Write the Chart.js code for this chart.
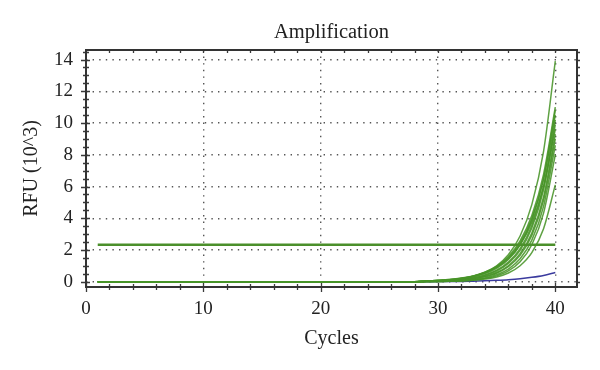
<!DOCTYPE html>
<html><head><meta charset="utf-8">
<script src="https://cdn.jsdelivr.net/npm/chart.js@4.4.0/dist/chart.umd.min.js"></script>
<style>html,body{margin:0;padding:0;background:#fff}#wrap{width:600px;height:370px}</style>
</head><body><div id="wrap"><canvas id="c" width="600" height="370"></canvas></div>
<script>
const cycles = [1,2,3,4,5,6,7,8,9,10,11,12,13,14,15,16,17,18,19,20,21,22,23,24,25,26,27,28,29,30,31,32,33,34,35,36,37,38,39,40];
const xTickValues = [0,10,20,30,40];
const yTickValues = [0,2,4,6,8,10,12,14];
const thresholdRFU = 2.33;

const well01 = [0,0,0,0,0,0,0,0,0,0,0,0,0,0,0,0,0,0,0,0,0,0,0,0,0,0,0,0,0.04,0.07,0.12,0.21,0.35,0.60,1.01,1.70,2.88,4.86,8.22,13.9];
const well02 = [0,0,0,0,0,0,0,0,0,0,0,0,0,0,0,0,0,0,0,0,0,0,0,0,0,0,0,0,0.05,0.09,0.14,0.23,0.37,0.60,0.97,1.58,2.57,4.17,6.77,11.0];
const well03 = [0,0,0,0,0,0,0,0,0,0,0,0,0,0,0,0,0,0,0,0,0,0,0,0,0,0,0,0,0.04,0.07,0.11,0.18,0.30,0.50,0.84,1.40,2.33,3.89,6.48,10.8];
const well04 = [0,0,0,0,0,0,0,0,0,0,0,0,0,0,0,0,0,0,0,0,0,0,0,0,0,0,0,0,0.05,0.08,0.13,0.21,0.35,0.57,0.93,1.51,2.45,3.98,6.46,10.5];
const well05 = [0,0,0,0,0,0,0,0,0,0,0,0,0,0,0,0,0,0,0,0,0,0,0,0,0,0,0,0,0.03,0.05,0.09,0.15,0.25,0.43,0.73,1.24,2.09,3.55,6.02,10.2];
const well06 = [0,0,0,0,0,0,0,0,0,0,0,0,0,0,0,0,0,0,0,0,0,0,0,0,0,0,0,0,0.03,0.05,0.08,0.13,0.23,0.40,0.68,1.16,1.98,3.39,5.79,9.9];
const well07 = [0,0,0,0,0,0,0,0,0,0,0,0,0,0,0,0,0,0,0,0,0,0,0,0,0,0,0,0,0.05,0.09,0.14,0.22,0.35,0.57,0.91,1.45,2.33,3.74,5.99,9.6];
const well08 = [0,0,0,0,0,0,0,0,0,0,0,0,0,0,0,0,0,0,0,0,0,0,0,0,0,0,0,0,0.02,0.04,0.06,0.11,0.19,0.34,0.58,1.01,1.77,3.07,5.34,9.3];
const well09 = [0,0,0,0,0,0,0,0,0,0,0,0,0,0,0,0,0,0,0,0,0,0,0,0,0,0,0,0,0.02,0.03,0.06,0.10,0.17,0.31,0.54,0.95,1.66,2.92,5.13,9.0];
const well10 = [0,0,0,0,0,0,0,0,0,0,0,0,0,0,0,0,0,0,0,0,0,0,0,0,0,0,0,0,0.01,0.02,0.04,0.07,0.13,0.24,0.44,0.80,1.45,2.62,4.75,8.6];
const well11 = [0,0,0,0,0,0,0,0,0,0,0,0,0,0,0,0,0,0,0,0,0,0,0,0,0,0,0,0,0.01,0.02,0.03,0.06,0.11,0.20,0.37,0.68,1.26,2.33,4.32,8.0];
const well12 = [0,0,0,0,0,0,0,0,0,0,0,0,0,0,0,0,0,0,0,0,0,0,0,0,0,0,0,0,0.01,0.02,0.03,0.05,0.09,0.17,0.30,0.55,1.01,1.83,3.34,6.1];
const ntcWell = [0,0,0,0,0,0,0,0,0,0,0,0,0,0,0,0,0,0,0,0,0,0,0,0,0,0,0,0,0,0.01,0.01,0.02,0.04,0.06,0.09,0.13,0.19,0.28,0.40,0.58];

const greenWells = [well01,well02,well03,well04,well05,well06,well07,well08,well09,well10,well11,well12];
const toPoints = arr => arr.map((v, i) => ({x: cycles[i], y: v}));

const FONT = 'Liberation Serif';
const TXT = '#222';
const datasets = greenWells.map(w => ({
  data: toPoints(w), borderColor: 'rgba(72,148,40,0.88)', borderWidth: 1.5,
  pointRadius: 0, cubicInterpolationMode: 'monotone', fill: false, order: 1
}));
datasets.push({
  data: toPoints(ntcWell), borderColor: '#3a3a9e', borderWidth: 1.5,
  pointRadius: 0, cubicInterpolationMode: 'monotone', fill: false, order: 3
});
datasets.push({
  data: [{x: cycles[0], y: thresholdRFU}, {x: cycles[cycles.length-1], y: thresholdRFU}],
  borderColor: '#4b8f2b', borderWidth: 2.6, pointRadius: 0, fill: false, order: 0
});

const frameTicks = {
  id: 'frameTicks',
  afterDraw(chart) {
    const {ctx, chartArea: a, scales: {x, y}} = chart;
    ctx.save();
    ctx.strokeStyle = '#3a3a3a';
    ctx.lineWidth = 1.3;
    for (let v = 0; v <= 40; v += 2) {
      const px = Math.round(x.getPixelForValue(v)) + 0.5;
      const major = v % 10 === 0;
      ctx.beginPath();
      ctx.moveTo(px, a.bottom - (major ? 4 : 3));
      ctx.lineTo(px, a.bottom + (major ? 5 : 3));
      ctx.moveTo(px, a.top);
      ctx.lineTo(px, a.top + 3);
      ctx.stroke();
    }
    for (let v = 0; v <= 14.5; v += 0.5) {
      const py = Math.round(y.getPixelForValue(v)) + 0.5;
      const major = v % 2 === 0;
      ctx.beginPath();
      ctx.moveTo(a.left - (major ? 5 : 3), py);
      ctx.lineTo(a.left + (major ? 4 : 3), py);
      ctx.moveTo(a.right, py);
      ctx.lineTo(a.right + 3, py);
      ctx.stroke();
    }
    ctx.lineWidth = 2;
    ctx.strokeStyle = '#333';
    ctx.strokeRect(a.left, a.top, a.right - a.left, a.bottom - a.top);
    ctx.restore();
  }
};

new Chart(document.getElementById('c'), {
  type: 'line',
  data: {datasets},
  plugins: [frameTicks],
  options: {
    responsive: false, animation: false, devicePixelRatio: 1,
    layout: {padding: {left: 0, right: 23, top: 0, bottom: 0}},
    plugins: {legend: {display: false}, tooltip: {enabled: false}, title: {display: false}},
    scales: {
      x: {
        type: 'linear', min: 0, max: 41.85,
        afterBuildTicks: s => { s.ticks = xTickValues.map(v => ({value: v})); },
        afterFit: s => { s.height = 83; },
        grid: {color: '#555', lineWidth: 1.4, drawTicks: false},
        border: {display: false, dash: [1.4, 5.2]},
        ticks: {color: TXT, font: {family: FONT, size: 19}, padding: 11, maxRotation: 0, autoSkip: false},
        title: {display: true, text: 'Cycles', color: TXT, font: {family: FONT, size: 20}, padding: {top: 0, bottom: 19}}
      },
      xTop: {
        type: 'linear', position: 'top', min: 0, max: 41.85,
        afterFit: s => { s.height = 50; },
        grid: {display: false, drawTicks: false},
        border: {display: false},
        ticks: {display: false},
        title: {display: true, text: 'Amplification', color: TXT, font: {family: FONT, size: 20.5}, padding: {top: 20, bottom: 0}}
      },
      y: {
        type: 'linear', min: -0.33, max: 14.6,
        afterBuildTicks: s => { s.ticks = yTickValues.map(v => ({value: v})); },
        afterFit: s => { s.width = 86; },
        grid: {color: '#555', lineWidth: 1.4, drawTicks: false},
        border: {display: false, dash: [1.4, 5.2]},
        ticks: {color: TXT, font: {family: FONT, size: 19}, padding: 13, autoSkip: false},
        title: {display: true, text: 'RFU (10^3)', color: TXT, font: {family: FONT, size: 20}, padding: {top: 20, bottom: 0}}
      }
    }
  }
});
</script></body></html>
